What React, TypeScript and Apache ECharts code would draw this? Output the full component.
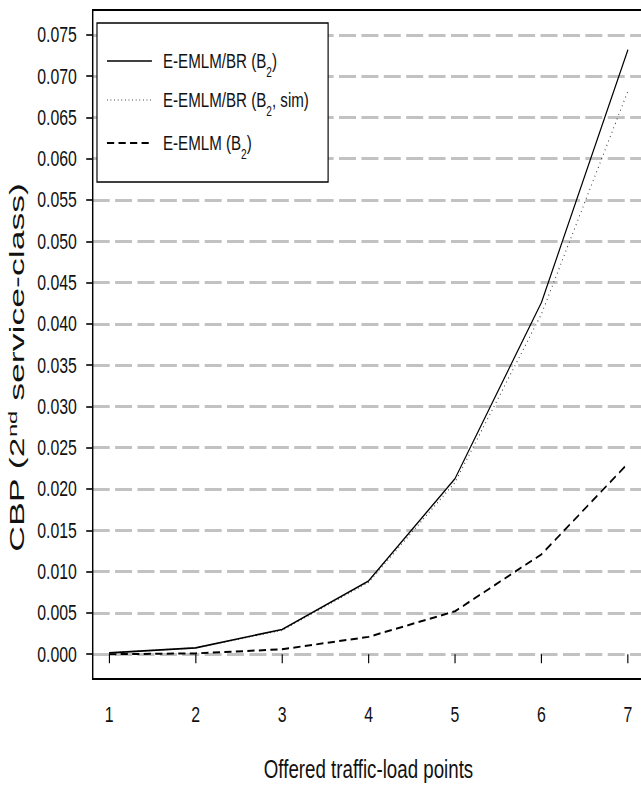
import React, { useEffect, useRef } from "react";
import * as echarts from "echarts";

const loadPoints = [1, 2, 3, 4, 5, 6, 7];
const eemlmBR = [0.00016, 0.00077, 0.0030, 0.00887, 0.02126, 0.0426, 0.0732];
const eemlmBRSim = [0.00016, 0.00077, 0.0029, 0.0087, 0.0208, 0.0412, 0.0682];
const eemlm = [0.0, 0.0001, 0.0006, 0.0021, 0.0052, 0.0121, 0.0231];
const yTicks = [0, 0.005, 0.01, 0.015, 0.02, 0.025, 0.03, 0.035, 0.04, 0.045, 0.05, 0.055, 0.06, 0.065, 0.07, 0.075];

const SX = 0.72;
const FONT = "'Liberation Sans', Arial, Helvetica, sans-serif";

export default function App() {
  const ref = useRef<HTMLDivElement>(null);
  useEffect(() => {
    if (!ref.current) return;
    const chart = echarts.init(ref.current, null, { renderer: "svg" });
    const pair = (arr: number[]) => loadPoints.map((x, i) => [x, arr[i]]);
    const legendRows = [
      { y: 61, text: "E-EMLM/BR (B{sub|2})", type: "solid", width: 1.6, color: "#000" },
      { y: 100, text: "E-EMLM/BR (B{sub|2}, sim)", type: [1, 4], width: 1.4, color: "#555" },
      { y: 143, text: "E-EMLM (B{sub|2})", type: [10, 6], width: 2, color: "#000" },
    ];
    const legendEls: any[] = [
      {
        type: "rect",
        shape: { x: 134.7, y: 23, width: 321, height: 159 },
        style: { fill: "#fff", stroke: "#000", lineWidth: 1.6 },
        z: 100,
      },
    ];
    legendRows.forEach((r) => {
      legendEls.push({
        type: "line",
        shape: { x1: 148.6, y1: r.y, x2: 211, y2: r.y },
        style: { stroke: r.color, lineWidth: r.width, lineDash: r.type === "solid" ? null : r.type },
        z: 101,
      });
      legendEls.push({
        type: "text",
        x: 226.4,
        y: r.y,
        z: 101,
        style: {
          text: r.text,
          fill: "#111",
          fontFamily: FONT,
          fontSize: 21,
          verticalAlign: "middle",
          align: "left",
          lineHeight: 28,
          rich: {
            sub: { fontSize: 14, fontFamily: FONT, verticalAlign: "bottom", lineHeight: 28, padding: [0, 0, -4, 0] },
          },
        },
      });
    });

    const option: any = {
      animation: false,
      backgroundColor: "#fff",
      grid: {
        left: 128.75,
        right: 5,
        top: 10,
        bottom: 111,
        show: true,
        borderColor: "#000",
        borderWidth: 2,
        backgroundColor: "transparent",
        z: 10,
      },
      xAxis: {
        type: "value",
        min: 0.81,
        max: 7.19,
        axisLine: { show: false },
        splitLine: { show: false },
        axisTick: { show: true, length: 9, inside: false, customValues: loadPoints, lineStyle: { color: "#000", width: 1.6 } },
        axisLabel: {
          customValues: loadPoints,
          margin: 25,
          fontSize: 22,
          fontFamily: FONT,
          color: "#111",
          formatter: (v: number) => String(v),
        },
      },
      yAxis: {
        type: "value",
        min: -0.003,
        max: 0.078,
        axisLine: { show: false },
        splitLine: {
          show: true,
          lineStyle: { color: "#c2c2c2", width: 3.2, type: [23.6, 7.5] },
        },
        axisTick: { show: true, length: 9, inside: false, customValues: yTicks, lineStyle: { color: "#000", width: 1.6 } },
        axisLabel: {
          customValues: yTicks,
          margin: 22,
          fontSize: 22,
          fontFamily: FONT,
          color: "#111",
          formatter: (v: number) => v.toFixed(3),
        },
      },
      series: [
        {
          type: "line",
          name: "E-EMLM/BR (B2)",
          data: pair(eemlmBR),
          symbol: "none",
          z: 5,
          lineStyle: { color: "#000", width: 1.6, type: "solid" },
        },
        {
          type: "line",
          name: "E-EMLM/BR (B2, sim)",
          data: pair(eemlmBRSim),
          symbol: "none",
          z: 4,
          lineStyle: { color: "#333", width: 1.4, type: [1, 4] },
        },
        {
          type: "line",
          name: "E-EMLM (B2)",
          data: pair(eemlm),
          symbol: "none",
          z: 5,
          lineStyle: { color: "#000", width: 2, type: [10, 6] },
        },
      ],
      graphic: [
        ...legendEls,
        {
          type: "text",
          x: 511.8,
          y: 769,
          style: {
            text: "Offered traffic-load points",
            fill: "#111",
            fontSize: 26,
            fontFamily: FONT,
            align: "center",
            verticalAlign: "middle",
          },
        },
        {
          type: "text",
          x: 23.6,
          y: 367.5,
          rotation: Math.PI / 2,
          scaleX: 1.32,
          style: {
            text: "CBP (2{sup|nd} service-class)",
            fill: "#111",
            fontSize: 27,
            fontFamily: FONT,
            align: "center",
            verticalAlign: "middle",
            lineHeight: 30,
            rich: {
              sup: { fontSize: 18, fontFamily: FONT, verticalAlign: "top", lineHeight: 30 },
            },
          },
        },
      ],
    };
    chart.setOption(option);
    return () => chart.dispose();
  }, []);

  return (
    <div
      style={{
        position: "fixed",
        left: 0,
        top: 0,
        width: 641,
        height: 790,
        overflow: "hidden",
        background: "#fff",
      }}
    >
      <div
        ref={ref}
        style={{
          width: 900,
          height: 790,
          transform: `scaleX(${SX})`,
          transformOrigin: "0 0",
        }}
      />
    </div>
  );
}
